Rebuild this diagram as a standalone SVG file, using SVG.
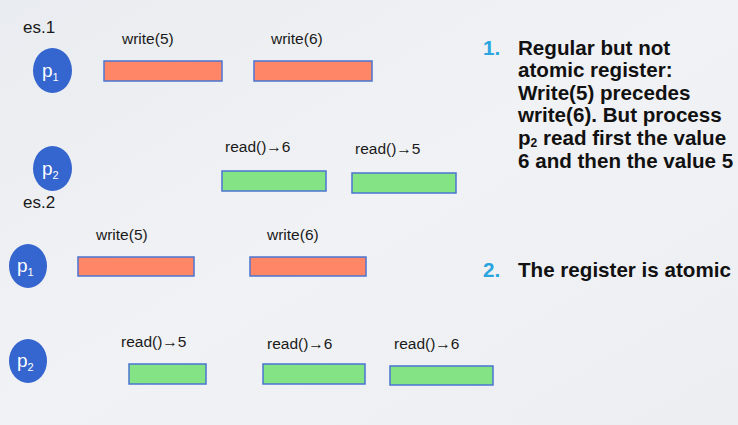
<svg xmlns="http://www.w3.org/2000/svg" width="738" height="425" viewBox="0 0 738 425">
<defs>
<linearGradient id="bg" x1="0" y1="0" x2="1" y2="1">
<stop offset="0" stop-color="#e9ecf0"/>
<stop offset="0.5" stop-color="#f1f2f5"/>
<stop offset="1" stop-color="#eceef2"/>
</linearGradient>
</defs>
<style>
.proc{fill:#3565cf}
.pl{fill:#fff;font-family:"Liberation Sans",Arial,sans-serif;font-size:19px}
.sub{font-size:11px}
.w{fill:#ff8667;stroke:#4a74d2;stroke-width:1.5}
.r{fill:#84e384;stroke:#4a74d2;stroke-width:1.5}
.lbl{fill:#1a1a1a;font-family:"Liberation Sans",Arial,sans-serif;font-size:15.5px}
.es{fill:#1a1a1a;font-family:"Liberation Sans",Arial,sans-serif;font-size:17px}
.txt{fill:#111;font-family:"Liberation Sans",Arial,sans-serif;font-size:20.6px;font-weight:bold}
.num{fill:#2aa5e0}
</style>
<rect x="0" y="0" width="738" height="425" fill="url(#bg)"/>
<text class="es" x="23" y="33">es.1</text>
<text class="es" x="23" y="208">es.2</text>

<g id="es1-p1"><ellipse class="proc" cx="52.5" cy="70.5" rx="19.5" ry="22.5"/><text class="pl" x="42" y="77">p<tspan class="sub" dy="4">1</tspan></text></g>
<g id="es1-p2"><ellipse class="proc" cx="52.5" cy="168.5" rx="19.5" ry="22.5"/><text class="pl" x="42" y="175">p<tspan class="sub" dy="4">2</tspan></text></g>
<g id="es1-w5"><rect class="w" x="104" y="61" width="118" height="20"/><text class="lbl" x="122" y="44">write(5)</text></g>
<g id="es1-w6"><rect class="w" x="254" y="61" width="118" height="20"/><text class="lbl" x="271" y="44">write(6)</text></g>
<g id="es1-r6"><rect class="r" x="222" y="171" width="104" height="20"/><text class="lbl" x="225" y="152">read()→6</text></g>
<g id="es1-r5"><rect class="r" x="352" y="173" width="104" height="20"/><text class="lbl" x="355" y="154">read()→5</text></g>

<g id="es2-p1"><ellipse class="proc" cx="28" cy="266" rx="19" ry="22"/><text class="pl" x="17" y="272">p<tspan class="sub" dy="4">1</tspan></text></g>
<g id="es2-p2"><ellipse class="proc" cx="28" cy="361" rx="19" ry="22"/><text class="pl" x="17" y="367">p<tspan class="sub" dy="4">2</tspan></text></g>
<g id="es2-w5"><rect class="w" x="78" y="257" width="116" height="19"/><text class="lbl" x="96" y="240">write(5)</text></g>
<g id="es2-w6"><rect class="w" x="250" y="257" width="116" height="19"/><text class="lbl" x="267" y="240">write(6)</text></g>
<g id="es2-r5"><rect class="r" x="129" y="364" width="77" height="20"/><text class="lbl" x="121" y="347">read()→5</text></g>
<g id="es2-r6a"><rect class="r" x="263" y="364" width="102" height="20"/><text class="lbl" x="267" y="349">read()→6</text></g>
<g id="es2-r6b"><rect class="r" x="390" y="366" width="103" height="19"/><text class="lbl" x="394" y="349">read()→6</text></g>

<g id="notes">
<text class="txt num" x="483" y="55">1.</text>
<text class="txt" x="518" y="55">Regular but not</text>
<text class="txt" x="518" y="77">atomic register:</text>
<text class="txt" x="518" y="100">Write(5) precedes</text>
<text class="txt" x="518" y="122">write(6). But process</text>
<text class="txt" x="518" y="145">p<tspan font-size="12" dy="2">2</tspan><tspan dy="-2"> read first the value</tspan></text>
<text class="txt" x="518" y="168">6 and then the value 5</text>
<text class="txt num" x="483" y="277">2.</text>
<text class="txt" x="518" y="277">The register is atomic</text>
</g>
</svg>
